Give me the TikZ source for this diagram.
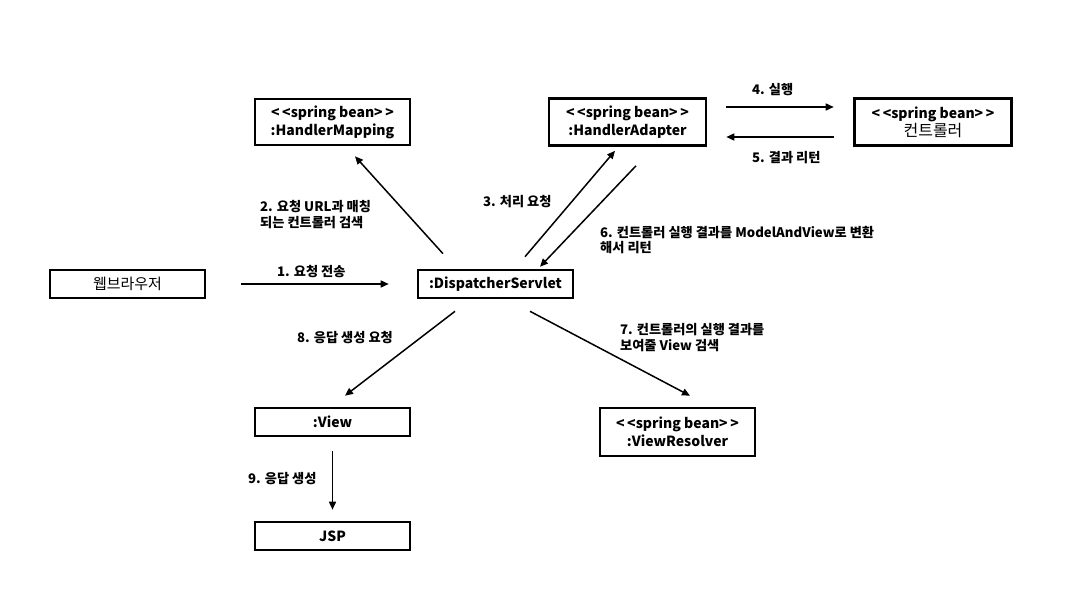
\documentclass[tikz,border=0pt]{standalone}
\usepackage{fontspec}
\newfontfamily\kr{Noto Sans CJK KR}
\usetikzlibrary{arrows.meta}
\begin{document}
\begin{tikzpicture}[x=1pt,y=-1pt,
  box/.style={draw,line width=2.6pt,rectangle,inner sep=0pt,align=center,font=\kr\bfseries\fontsize{14}{18}\selectfont},
  conn/.style={line width=1.5pt,-{Triangle[length=8pt,width=7pt]}},
  lbl/.style={anchor=west,inner sep=0pt,align=left,font=\kr\bfseries\fontsize{13.2}{15.5}\selectfont}]
\useasboundingbox (0,0) rectangle (1065,600);
\fill[white] (0,0) rectangle (1065,600);
\newcommand{\sbean}{<\kern2.5pt<spring bean>\kern2.5pt>}
\node[box,minimum width=155pt,minimum height=46pt] (HM) at (332.5,122) {\sbean\\:HandlerMapping};
\node[box,minimum width=157pt,minimum height=47pt] (HA) at (627.5,122) {\sbean\\:HandlerAdapter};
\node[box,minimum width=157pt,minimum height=47pt] (CT) at (933,122) {\sbean\\{\mdseries\fontsize{16}{18}\selectfont 컨트롤러}};
\node[box,minimum width=155pt,minimum height=28pt,font=\kr\fontsize{15}{17}\selectfont] (WB) at (127.5,284) {웹브라우저};
\node[box,minimum width=155pt,minimum height=28pt] (DS) at (495.5,284) {:DispatcherServlet};
\node[box,minimum width=155pt,minimum height=28pt] (VW) at (332.5,422) {:View};
\node[box,minimum width=155pt,minimum height=48pt] (VR) at (677.5,432) {\sbean\\:ViewResolver};
\node[box,minimum width=155pt,minimum height=28pt] (JSP) at (332.5,536) {JSP};
% connectors
\draw[conn,shorten <=35pt,shorten >=28pt] (WB.east) -- (DS.west);
\draw[conn] ([xshift=-52.5pt,yshift=15pt]DS.north) -- ([xshift=22.5pt,yshift=-10pt]HM.south);
\draw[conn] ([xshift=29.5pt,yshift=12pt]DS.north) -- ([xshift=-12.5pt,yshift=-4pt]HA.south);
\draw[conn] ([xshift=8.5pt,yshift=-19pt]HA.south) -- ([xshift=44.5pt,yshift=2pt]DS.north);
\draw[conn] ([xshift=19pt,yshift=15pt]HA.east) -- ([xshift=-19.5pt,yshift=15pt]CT.west);
\draw[conn] ([xshift=-19.5pt,yshift=-15pt]CT.west) -- ([xshift=19pt,yshift=-15pt]HA.east);
\draw[conn] ([xshift=-40.5pt,yshift=-12pt]DS.south) -- ([xshift=12.5pt,yshift=11pt]VW.north);
\draw[conn] ([xshift=34.5pt,yshift=-12pt]DS.south) -- ([xshift=12.5pt,yshift=11pt]VR.north);
\draw[conn] ([yshift=-14pt]VW.south) -- ([yshift=11pt]JSP.north);
% labels
\node[lbl] (L1) at (277,272) {1. 요청 전송};
\node[lbl] (L2) at (260,214.5) {2. 요청 URL과 매칭\\되는 컨트롤러 검색};
\node[lbl] (L3) at (483,202) {3. 처리 요청};
\node[lbl] (L4) at (752,90) {4. 실행};
\node[lbl] (L5) at (752,158) {5. 결과 리턴};
\node[lbl] (L6) at (600,240) {6. 컨트롤러 실행 결과를 ModelAndView로 변환\\해서 리턴};
\node[lbl] (L7) at (620,337.5) {7. 컨트롤러의 실행 결과를\\보여줄 View 검색};
\node[lbl] (L8) at (297,338) {8. 응답 생성 요청};
\node[lbl] (L9) at (248,479) {9. 응답 생성};
\end{tikzpicture}
\end{document}
